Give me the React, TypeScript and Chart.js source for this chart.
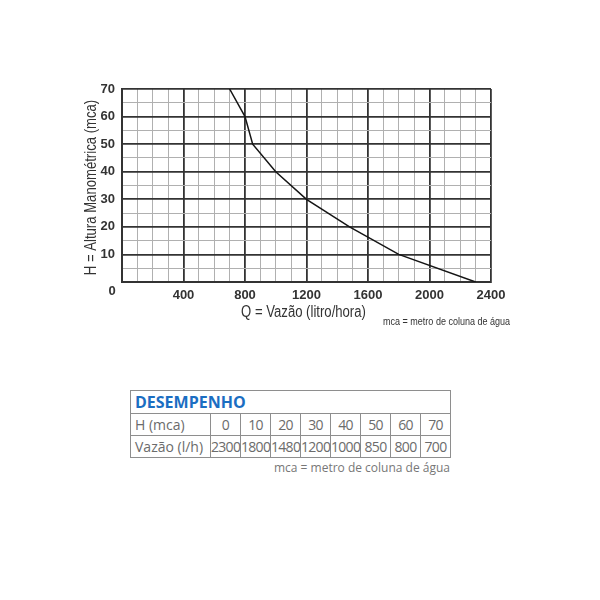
import React, { useEffect, useRef } from "react";
import { Chart, registerables } from "chart.js";

Chart.register(...registerables);

// Performance data (H in mca, flow in l/h)
const headMca = [0, 10, 20, 30, 40, 50, 60, 70];
const flowLh = [2300, 1800, 1480, 1200, 1000, 850, 800, 700];

const xMin = 0;
const xMax = 2400;
const xStep = 100;
const xMajor = 400;
const yMin = 0;
const yMax = 70;
const yStep = 5;
const yMajor = 10;

const yTitle = "H = Altura Manométrica (mca)";
const xTitle = "Q = Vazão (litro/hora)";
const note = "mca = metro de coluna de água";
const tableTitle = "DESEMPENHO";
const rowLabelH = "H (mca)";
const rowLabelQ = "Vazão (l/h)";

const baseFont = "'Liberation Sans', Arial, sans-serif";
const NARROW = 0.82;

const MAJOR = "#333333";
const MINOR = "#b0b0b0";

// Draws the corner "0" and the (narrow) axis titles
const axisText = {
  id: "axisText",
  afterDraw(chart: any) {
    const { ctx, scales, chartArea } = chart;
    const x0 = scales.x.getPixelForValue(0);
    const y0 = scales.y.getPixelForValue(0);
    ctx.save();
    ctx.font = `bold 13px ${baseFont}`;
    ctx.fillStyle = "#333333";
    ctx.textAlign = "center";
    ctx.textBaseline = "middle";
    ctx.fillText("0", x0 - 10, y0 + 9);
    ctx.restore();

    const cx = (chartArea.left + chartArea.right) / 2;
    const cy = (chartArea.top + chartArea.bottom) / 2;

    ctx.save();
    ctx.font = `16px ${baseFont}`;
    ctx.fillStyle = "#333333";
    ctx.textAlign = "center";
    ctx.textBaseline = "middle";
    ctx.translate(cx - 3, chartArea.bottom + 31);
    ctx.scale(NARROW, 1);
    ctx.fillText(xTitle, 0, 0);
    ctx.restore();

    ctx.save();
    ctx.font = `16px ${baseFont}`;
    ctx.fillStyle = "#333333";
    ctx.textAlign = "center";
    ctx.textBaseline = "middle";
    ctx.translate(chartArea.left - 30, cy + 2);
    ctx.rotate(-Math.PI / 2);
    ctx.scale(NARROW, 1);
    ctx.fillText(yTitle, 0, 0);
    ctx.restore();

    ctx.save();
    ctx.font = `11px ${baseFont}`;
    ctx.fillStyle = "#333333";
    ctx.textAlign = "left";
    ctx.textBaseline = "middle";
    ctx.translate(chartArea.right - 108, chartArea.bottom + 40);
    ctx.scale(NARROW, 1);
    ctx.fillText(note, 0, 0);
    ctx.restore();
  },
};

function PumpChart() {
  const ref = useRef<HTMLCanvasElement | null>(null);
  useEffect(() => {
    if (!ref.current) return;
    const points = headMca.map((h, i) => ({ x: flowLh[i], y: h }));
    const chart = new Chart(ref.current, {
      type: "line",
      data: {
        datasets: [
          {
            data: points,
            borderColor: "#151515",
            borderWidth: 1.5,
            pointRadius: 0,
            tension: 0,
            fill: false,
          },
        ],
      },
      options: {
        animation: false,
        responsive: false,
        devicePixelRatio: 1,
        layout: { padding: { left: 80, right: 109, top: 89, bottom: 18 } },
        plugins: { legend: { display: false }, tooltip: { enabled: false } },
        scales: {
          x: {
            type: "linear",
            min: xMin,
            max: xMax,
            afterFit: (s: any) => {
              s.height = 40;
            },
            ticks: {
              stepSize: xStep,
              autoSkip: false,
              maxRotation: 0,
              padding: 6,
              color: "#333333",
              font: { family: baseFont, size: 13, weight: "bold" },
              callback: (v: any) => (v % xMajor === 0 && v !== 0 ? String(v) : ""),
            },
            grid: {
              drawTicks: false,
              color: (c: any) => (c.tick && c.tick.value % xMajor === 0 ? MAJOR : MINOR),
              lineWidth: (c: any) => (c.tick && c.tick.value % xMajor === 0 ? 1.8 : 1),
            },
            border: { color: MAJOR, width: 2 },
            title: { display: false, text: xTitle },
          },
          y: {
            type: "linear",
            min: yMin,
            max: yMax,
            afterFit: (s: any) => {
              s.width = 42;
            },
            ticks: {
              stepSize: yStep,
              autoSkip: false,
              padding: 7,
              color: "#333333",
              font: { family: baseFont, size: 13, weight: "bold" },
              callback: (v: any) => (v % yMajor === 0 && v !== 0 ? String(v) : ""),
            },
            grid: {
              drawTicks: false,
              color: (c: any) => (c.tick && c.tick.value % yMajor === 0 ? MAJOR : MINOR),
              lineWidth: (c: any) => (c.tick && c.tick.value % yMajor === 0 ? 1.8 : 1),
            },
            border: { color: MAJOR, width: 2 },
            title: { display: false, text: yTitle },
          },
        },
      },
      plugins: [axisText],
    } as any);
    return () => chart.destroy();
  }, []);
  return <canvas ref={ref} width={600} height={340} style={{ display: "block" }} />;
}

const cellBorder = "1px solid #8e8e8e";
const sans = "'Open Sans', 'Noto Sans', sans-serif";

export default function App() {
  const labelCell: React.CSSProperties = {
    border: cellBorder,
    padding: "0 0 0 4px",
    textAlign: "left",
    whiteSpace: "nowrap",
    height: 21,
  };
  const numCell: React.CSSProperties = {
    border: cellBorder,
    padding: 0,
    textAlign: "center",
    whiteSpace: "nowrap",
    letterSpacing: "-0.7px",
    height: 21,
  };
  return (
    <div style={{ position: "absolute", left: 0, top: 0, width: 600, height: 600, background: "#fff" }}>
      <PumpChart />
      <table
        style={{
          position: "absolute",
          left: 130,
          top: 390,
          width: 320,
          borderCollapse: "collapse",
          tableLayout: "fixed",
          fontFamily: sans,
          fontSize: 14,
          color: "#6b6b6b",
          lineHeight: "20px",
        }}
      >
        <colgroup>
          <col style={{ width: 80 }} />
          {headMca.map((h) => (
            <col key={h} style={{ width: 30 }} />
          ))}
        </colgroup>
        <tbody>
          <tr>
            <td
              colSpan={headMca.length + 1}
              style={{
                border: cellBorder,
                padding: "0 0 0 4px",
                color: "#1b6ec2",
                fontWeight: 700,
                fontSize: 16,
                height: 22,
                textAlign: "left",
              }}
            >
              {tableTitle}
            </td>
          </tr>
          <tr>
            <td style={labelCell}>{rowLabelH}</td>
            {headMca.map((h) => (
              <td key={h} style={numCell}>
                {h}
              </td>
            ))}
          </tr>
          <tr>
            <td style={labelCell}>{rowLabelQ}</td>
            {flowLh.map((q, i) => (
              <td key={i} style={numCell}>
                {q}
              </td>
            ))}
          </tr>
        </tbody>
      </table>
      <div
        style={{
          position: "absolute",
          left: 130,
          width: 320,
          top: 459,
          textAlign: "right",
          fontFamily: sans,
          fontSize: 12,
          color: "#777",
          whiteSpace: "nowrap",
        }}
      >
        {note}
      </div>
    </div>
  );
}
